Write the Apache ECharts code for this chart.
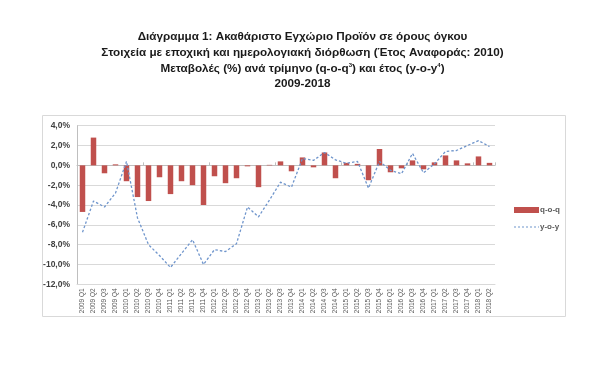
<!DOCTYPE html>
<html><head><meta charset="utf-8">
<script src="https://cdn.jsdelivr.net/npm/echarts@6/dist/echarts.min.js"></script>
<style>html,body{margin:0;padding:0;background:#fff}#c{width:605px;height:377px}</style>
</head><body><div id="c"></div>
<script>
var categories = ['2009 Q1','2009 Q2','2009 Q3','2009 Q4','2010 Q1','2010 Q2','2010 Q3','2010 Q4',
'2011 Q1','2011 Q2','2011 Q3','2011 Q4','2012 Q1','2012 Q2','2012 Q3','2012 Q4',
'2013 Q1','2013 Q2','2013 Q3','2013 Q4','2014 Q1','2014 Q2','2014 Q3','2014 Q4',
'2015 Q1','2015 Q2','2015 Q3','2015 Q4','2016 Q1','2016 Q2','2016 Q3','2016 Q4',
'2017 Q1','2017 Q2','2017 Q3','2017 Q4','2018 Q1','2018 Q2'];
var qoq = [-4.7,2.8,-0.8,0.1,-1.6,-3.2,-3.6,-1.2,-2.9,-1.6,-2.0,-4.0,-1.1,-1.8,-1.3,-0.1,
-2.2,0.05,0.4,-0.6,0.8,-0.2,1.3,-1.3,0.25,0.15,-1.5,1.65,-0.7,-0.3,0.5,-0.4,0.3,1.0,0.5,0.2,0.9,0.25];
var yoy = [-6.75,-3.6,-4.2,-2.8,0.4,-5.3,-8.0,-9.1,-10.3,-8.9,-7.5,-10.0,-8.5,-8.7,-7.9,-4.2,
-5.2,-3.5,-1.7,-2.2,0.7,0.5,1.3,0.55,0.2,0.4,-2.3,0.4,-0.5,-0.85,1.2,-0.75,0.15,1.4,1.5,2.0,2.5,1.9];
var titleLines = ['Διάγραμμα 1: Ακαθάριστο Εγχώριο Προϊόν σε όρους όγκου',
'Στοιχεία με εποχική και ημερολογιακή διόρθωση (Έτος Αναφοράς: 2010)',
'{a|Μεταβολές (%) ανά τρίμηνο (q-o-q}{s|3}{a|) και έτος (y-o-y}{s|4}{a|)}',
'2009-2018'];
var seriesNames = ['q-o-q','y-o-y'];

var FONT = '"Liberation Sans", sans-serif';
var tStyle = {fontFamily: FONT, fontWeight:'bold', fontSize: 11.7, color:'#1a1a1a',
  rich:{a:{fontFamily: FONT, fontWeight:'bold', fontSize:11.7, color:'#1a1a1a'},
        s:{fontFamily: FONT, fontWeight:'bold', fontSize:6, color:'#1a1a1a', verticalAlign:'top', padding:[0,0,6,0]}}};
var tops = [31, 46.5, 62.5, 77.5];
var chart = echarts.init(document.getElementById('c'), null, {renderer:'canvas'});
chart.setOption({
  animation:false,
  title: titleLines.map(function(t,i){return {text:t, left:'center', top:tops[i], padding:0, textStyle:tStyle};}),
  graphic:[{type:'rect', shape:{x:42.5,y:115.5,width:523,height:201}, style:{fill:'none', stroke:'#d9d9d9', lineWidth:1}, silent:true}],
  legend:{orient:'vertical', left:509, top:201, itemGap:9, itemWidth:25, itemHeight:6,
    textStyle:{fontFamily:FONT, fontSize:8, color:'#595959', fontWeight:'bold', padding:[0,0,0,-4]},
    data:[{name:seriesNames[0], icon:'rect'},{name:seriesNames[1], icon:'path://M0,0 L2,0 L2,1 L0,1 Z M4,0 L6,0 L6,1 L4,1 Z M8,0 L10,0 L10,1 L8,1 Z M12,0 L14,0 L14,1 L12,1 Z M16,0 L18,0 L18,1 L16,1 Z M20,0 L22,0 L22,1 L20,1 Z M24,0 L25,0 L25,1 L24,1 Z', itemStyle:{color:'#6f95cc'}}]},
  grid:{left:77, right:110, top:125.7, bottom:92.7, containLabel:false},
  xAxis:[{type:'category', data:categories, position:'bottom', boundaryGap:true,
      axisLine:{onZero:false, show:true, lineStyle:{color:'#d9d9d9'}}, axisTick:{show:false},
      axisLabel:{rotate:90, interval:0, fontFamily:FONT, fontSize:6.5, color:'#595959', margin:4}},
    {type:'category', data:categories, boundaryGap:true,
      axisLine:{onZero:true, show:true, lineStyle:{color:'#bfbfbf'}},
      axisTick:{show:true, length:3, inside:false, alignWithLabel:false, lineStyle:{color:'#bfbfbf'}},
      axisLabel:{show:false}}],
  yAxis:{type:'value', min:-12, max:4, interval:2,
    axisLine:{show:true, lineStyle:{color:'#bfbfbf'}}, axisTick:{show:false},
    splitLine:{lineStyle:{color:'#d9d9d9'}},
    axisLabel:{fontFamily:FONT, fontSize:8.5, fontWeight:'bold', color:'#404040', margin:7,
      formatter:function(v){return v.toFixed(1).replace('.',',')+'%';}}},
  series:[
    {name:seriesNames[0], type:'bar', data:qoq, barWidth:5.5, itemStyle:{color:'#c0504d'}},
    {name:seriesNames[1], type:'line', data:yoy, symbol:'none', smooth:false,
      lineStyle:{color:'#6f95cc', width:1.3, type:[2.5,2]}, itemStyle:{color:'#6f95cc'}}
  ]
});
</script></body></html>
